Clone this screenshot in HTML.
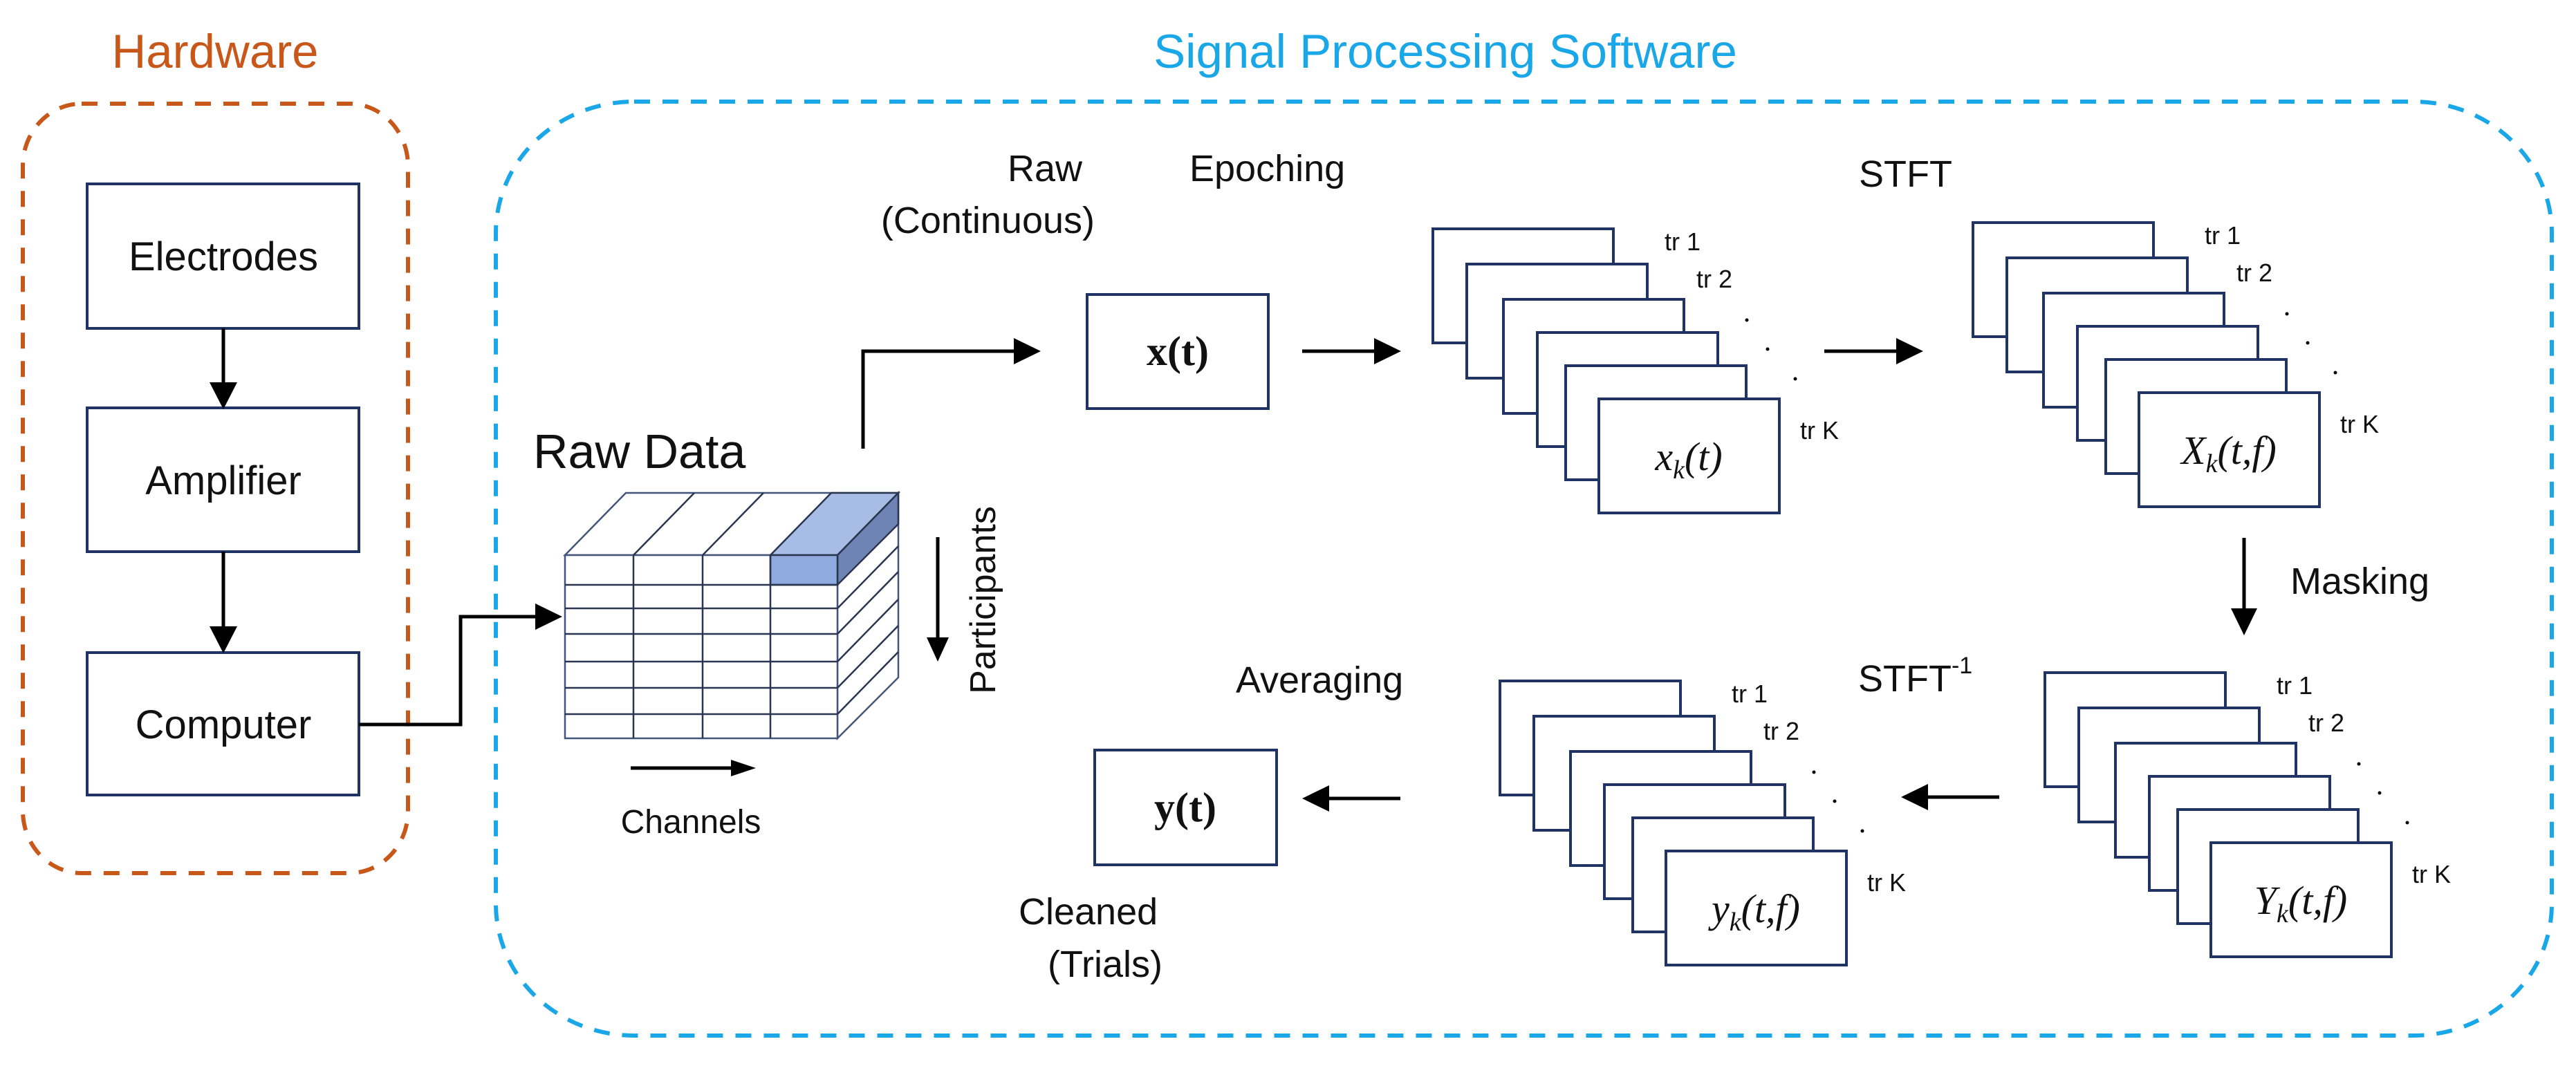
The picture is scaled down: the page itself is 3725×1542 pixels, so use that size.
<!DOCTYPE html>
<html><head><meta charset="utf-8"><style>
html,body{margin:0;padding:0;background:#fff;}
svg{display:block;}
text{font-family:"Liberation Sans",sans-serif;fill:#111;}
.s{font-family:"Liberation Serif",serif;}
</style></head><body>
<svg width="3725" height="1542" viewBox="0 0 3725 1542" xmlns="http://www.w3.org/2000/svg">
<defs>
<marker id="ah" markerWidth="10" markerHeight="10" refX="0" refY="5" orient="auto" markerUnits="userSpaceOnUse" viewBox="0 0 10 10"></marker>
</defs>
<!-- containers -->
<rect x="33" y="150" width="557" height="1113" rx="85" ry="90" fill="none" stroke="#c8571a" stroke-width="6" stroke-dasharray="23 18"/>
<rect x="717" y="147" width="2973" height="1351" rx="200" ry="190" fill="none" stroke="#1aa7e8" stroke-width="6" stroke-dasharray="23 18"/>
<text x="311" y="98" font-size="69" text-anchor="middle" style="fill:#c8571a">Hardware</text>
<text x="2090" y="98" font-size="69" text-anchor="middle" style="fill:#1aa7e8">Signal Processing Software</text>

<!-- hardware boxes -->
<g fill="#fff" stroke="#1f3464" stroke-width="4">
<rect x="126" y="266" width="393" height="209"/>
<rect x="126" y="590" width="393" height="208"/>
<rect x="126" y="944" width="393" height="206"/>
</g>
<text x="323" y="391" font-size="58" text-anchor="middle">Electrodes</text>
<text x="323" y="715" font-size="58" text-anchor="middle">Amplifier</text>
<text x="323" y="1068" font-size="58" text-anchor="middle">Computer</text>
<g stroke="#000" stroke-width="5" fill="none">
<line x1="323" y1="475" x2="323" y2="555"/>
<line x1="323" y1="798" x2="323" y2="910"/>
<polyline points="519,1048 666,1048 666,892 780,892"/>
<polyline points="1248,649 1248,508 1470,508"/>
<line x1="1883" y1="508" x2="1990" y2="508"/>
<line x1="2638" y1="508" x2="2745" y2="508"/>
<line x1="3245" y1="778" x2="3245" y2="885"/>
<line x1="2891" y1="1153" x2="2785" y2="1153"/>
<line x1="2025" y1="1155" x2="1918" y2="1155"/>
<line x1="912" y1="1111" x2="1060" y2="1111"/>
<line x1="1356" y1="777" x2="1356" y2="925"/>
</g>
<g fill="#000">
<polygon points="303,553 343,553 323,592"/>
<polygon points="303,906 343,906 323,945"/>
<polygon points="774,873 774,911 813,892"/>
<polygon points="1466,489 1466,527 1505,508"/>
<polygon points="1987,489 1987,527 2026,508"/>
<polygon points="2742,489 2742,527 2781,508"/>
<polygon points="3226,880 3264,880 3245,919"/>
<polygon points="2788,1134 2788,1172 2749,1153"/>
<polygon points="1922,1136 1922,1174 1883,1155"/>
<polygon points="1057,1099 1057,1123 1093,1111"/>
<polygon points="1340,922 1372,922 1356,957"/>
</g>

<!-- cube -->
<g stroke="#2a3550" stroke-width="2.5">
<polygon points="817,803 1211,803 1299,713 905,713" fill="#fff" stroke="#44557a"/>
<polygon points="1114,803 1211,803 1299,713 1202,713" fill="#a7bde6"/>
<polygon points="1211,803 1299,713 1299,980 1211,1068" fill="#fff" stroke="#44557a"/>
<polygon points="1211,803 1299,713 1299,758 1211,846" fill="#6f84b4"/>
<rect x="817" y="803" width="394" height="265" fill="#fff" stroke="#44557a"/>
<rect x="1114" y="803" width="97" height="43" fill="#8eaadf"/>
<line x1="916" y1="803" x2="1004" y2="713"/>
<line x1="1016" y1="803" x2="1104" y2="713"/>
<line x1="916" y1="803" x2="916" y2="1068"/>
<line x1="1016" y1="803" x2="1016" y2="1068"/>
<line x1="1114" y1="803" x2="1114" y2="1068"/>
<line x1="817" y1="846" x2="1299" y2="846" stroke="none"/>
<line x1="817" y1="846" x2="1211" y2="846"/>
<line x1="817" y1="880" x2="1211" y2="880"/>
<line x1="817" y1="917" x2="1211" y2="917"/>
<line x1="817" y1="957" x2="1211" y2="957"/>
<line x1="817" y1="995" x2="1211" y2="995"/>
<line x1="817" y1="1033" x2="1211" y2="1033"/>
<line x1="1211" y1="880" x2="1299" y2="790"/>
<line x1="1211" y1="917" x2="1299" y2="827"/>
<line x1="1211" y1="957" x2="1299" y2="867"/>
<line x1="1211" y1="995" x2="1299" y2="905"/>
<line x1="1211" y1="1033" x2="1299" y2="943"/>
</g>
<text x="771" y="677" font-size="70">Raw Data</text>
<text x="999" y="1205" font-size="48" text-anchor="middle">Channels</text>
<text transform="translate(1439,868) rotate(-90)" font-size="52" text-anchor="middle">Participants</text>

<!-- labels -->
<text x="1565" y="262" font-size="54" text-anchor="end">Raw</text>
<text x="1583" y="337" font-size="54" text-anchor="end">(Continuous)</text>
<text x="1720" y="262" font-size="54">Epoching</text>
<text x="2688" y="270" font-size="54">STFT</text>
<text x="3312" y="859" font-size="54">Masking</text>
<text x="1787" y="1002" font-size="54">Averaging</text>
<text x="2687" y="1000" font-size="54">STFT<tspan font-size="34" dy="-26">-1</tspan></text>
<text x="1473" y="1337" font-size="54">Cleaned</text>
<text x="1515" y="1413" font-size="54">(Trials)</text>

<!-- x(t), y(t) -->
<g fill="#fff" stroke="#1f3464" stroke-width="4">
<rect x="1572" y="426" width="262" height="165"/>
<rect x="1583" y="1085" width="263" height="166"/>
</g>
<text class="s" x="1703" y="528" font-size="60" font-weight="bold" text-anchor="middle">x(t)</text>
<text class="s" x="1714" y="1188" font-size="60" font-weight="bold" text-anchor="middle">y(t)</text>

<!-- stacks -->
<g fill="#fff" stroke="#1f3464" stroke-width="4">
<g transform="translate(2072,331)">
<rect x="0" y="0" width="261" height="165"/><rect x="49" y="51" width="261" height="165"/><rect x="102" y="102" width="261" height="165"/><rect x="151" y="150" width="261" height="165"/><rect x="192" y="198" width="261" height="165"/><rect x="240" y="246" width="261" height="165"/>
</g>
<g transform="translate(2853,322)">
<rect x="0" y="0" width="261" height="165"/><rect x="49" y="51" width="261" height="165"/><rect x="102" y="102" width="261" height="165"/><rect x="151" y="150" width="261" height="165"/><rect x="192" y="198" width="261" height="165"/><rect x="240" y="246" width="261" height="165"/>
</g>
<g transform="translate(2957,973)">
<rect x="0" y="0" width="261" height="165"/><rect x="49" y="51" width="261" height="165"/><rect x="102" y="102" width="261" height="165"/><rect x="151" y="150" width="261" height="165"/><rect x="192" y="198" width="261" height="165"/><rect x="240" y="246" width="261" height="165"/>
</g>
<g transform="translate(2169,985)">
<rect x="0" y="0" width="261" height="165"/><rect x="49" y="51" width="261" height="165"/><rect x="102" y="102" width="261" height="165"/><rect x="151" y="150" width="261" height="165"/><rect x="192" y="198" width="261" height="165"/><rect x="240" y="246" width="261" height="165"/>
</g>
</g>
<!-- stack labels -->
<g font-size="36">
<g transform="translate(2072,331)"><text x="335" y="31">tr 1</text><text x="381" y="85">tr 2</text><text x="531" y="304">tr K</text><circle cx="454" cy="132" r="2.5"/><circle cx="484" cy="174" r="2.5"/><circle cx="524" cy="217" r="2.5"/></g>
<g transform="translate(2853,322)"><text x="335" y="31">tr 1</text><text x="381" y="85">tr 2</text><text x="531" y="304">tr K</text><circle cx="454" cy="132" r="2.5"/><circle cx="484" cy="174" r="2.5"/><circle cx="524" cy="217" r="2.5"/></g>
<g transform="translate(2957,973)"><text x="335" y="31">tr 1</text><text x="381" y="85">tr 2</text><text x="531" y="304">tr K</text><circle cx="454" cy="132" r="2.5"/><circle cx="484" cy="174" r="2.5"/><circle cx="524" cy="217" r="2.5"/></g>
<g transform="translate(2169,985)"><text x="335" y="31">tr 1</text><text x="381" y="85">tr 2</text><text x="531" y="304">tr K</text><circle cx="454" cy="132" r="2.5"/><circle cx="484" cy="174" r="2.5"/><circle cx="524" cy="217" r="2.5"/></g>
</g>
<g class="s" font-size="58" font-style="italic" text-anchor="middle">
<text class="s" x="2442" y="680">x<tspan font-size="38" dy="12">k</tspan><tspan dy="-12">(t)</tspan></text>
<text class="s" x="3223" y="671">X<tspan font-size="38" dy="12">k</tspan><tspan dy="-12">(t,f)</tspan></text>
<text class="s" x="3327" y="1322">Y<tspan font-size="38" dy="12">k</tspan><tspan dy="-12">(t,f)</tspan></text>
<text class="s" x="2539" y="1334">y<tspan font-size="38" dy="12">k</tspan><tspan dy="-12">(t,f)</tspan></text>
</g>
</svg>
</body></html>
